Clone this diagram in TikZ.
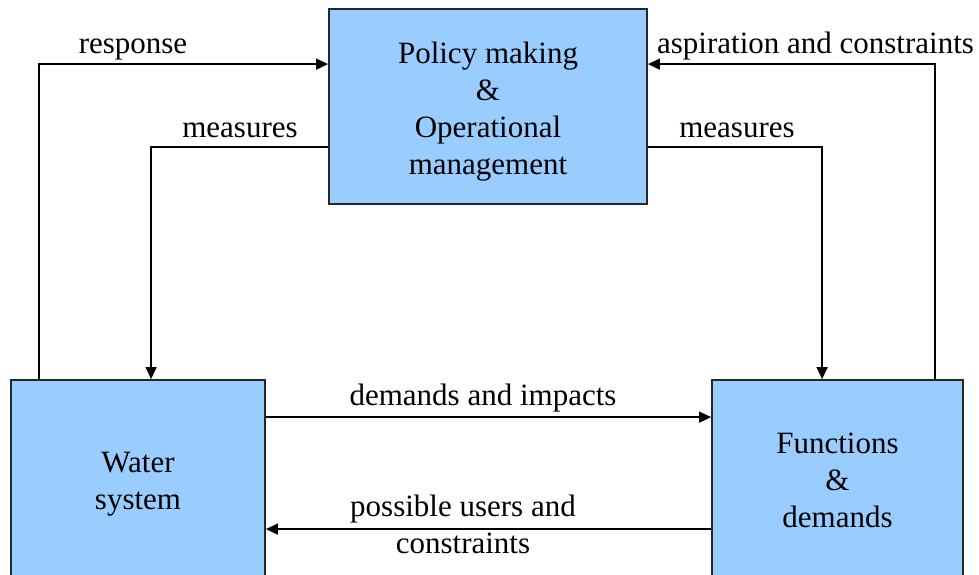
\documentclass[tikz,border=0pt]{standalone}
\usepackage{fontspec}
\setmainfont{Liberation Serif}
\usetikzlibrary{arrows.meta}
\definecolor{boxblue}{RGB}{153,204,255}
\begin{document}
\begin{tikzpicture}[x=1pt,y=-1pt,line join=miter,>={Triangle[length=12pt,width=11pt]},font=\fontsize{31}{37}\selectfont]
	\tikzset{block/.style={draw=black!85,line width=1.8pt,fill=boxblue,align=center,inner sep=0pt},
		flow/.style={->,line width=1.4pt},
		lbl/.style={anchor=base,inner sep=0pt}}
	\useasboundingbox (0,0) rectangle (979,574);
	\clip (0,0) rectangle (979,574);
	% the three blocks
	\node[block,minimum width=318pt,minimum height=195pt] (pol) at (488,106.5) {\rule{0pt}{31pt}Policy making\\\&\\Operational\\management};
	\node[block,minimum width=254pt,minimum height=208pt] (wsys) at (138,484) {Water\\system};
	\node[block,minimum width=251pt,minimum height=200pt] (fun) at (837.5,480) {Functions\\\&\\demands};
	% loops over the top
	\draw[flow] ([xshift=29pt]wsys.north west) |- ([yshift=-56pt]pol.north west);
	\draw[flow] ([yshift=-139pt]pol.north west) -| ([xshift=141pt]wsys.north west);
	\draw[flow] ([yshift=-139pt]pol.north east) -| ([xshift=111pt]fun.north west);
	\draw[flow] ([xshift=224pt]fun.north west) |- ([yshift=-56pt]pol.north east);
	% between the lower blocks
	\draw[flow] ([yshift=-38pt]wsys.north east) -- ([yshift=-38pt]fun.north west);
	\draw[flow] ([yshift=-150pt]fun.north west) -- ([yshift=-150pt]wsys.north east);
	% labels
	\node[lbl] (lresp) at (133,53) {response};
	\node[lbl] (lmeasl) at (240,137) {measures};
	\node[lbl] (lmeasr) at (737,137) {measures};
	\node[lbl] (lasp) at (815.5,53) {aspiration and constraints};
	\node[lbl] (ldem) at (483,405) {demands and impacts};
	\node[inner sep=0pt,anchor=north,align=center] (luse) at (463,495) {possible users and\\constraints};
\end{tikzpicture}
\end{document}
